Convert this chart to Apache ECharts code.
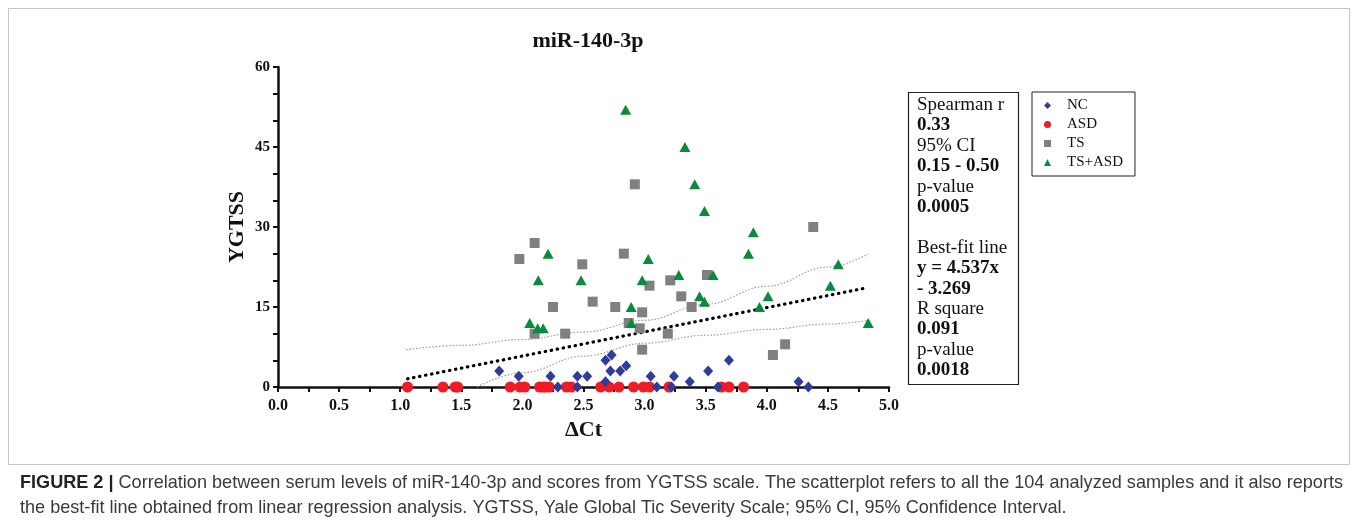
<!DOCTYPE html>
<html>
<head>
<meta charset="utf-8">
<script src="https://cdn.jsdelivr.net/npm/echarts@6/dist/echarts.min.js"></script>
<style>
html,body{margin:0;padding:0;background:#fff;}
#chart{width:1357px;height:526px;}
</style>
</head>
<body>
<div id="chart"></div>
<script>
// ---- data ----
const ncPoints = [
  [1.81,3],[1.97,2],[2.23,2],[2.45,2],[2.53,2],[2.29,0],[2.45,0],[2.68,5],[2.73,6],[2.72,3],
  [2.80,3],[2.85,4],[2.68,1],[3.05,2],[3.24,2],[3.10,0],[3.22,0],[3.37,1],[3.52,3],[3.69,5],
  [3.60,0],[4.26,1],[4.34,0]
];
const asdPoints = [
  [1.06,0],[1.35,0],[1.45,0],[1.47,0],[1.90,0],[1.98,0],[2.02,0],[2.14,0],[2.17,0],[2.19,0],
  [2.22,0],[2.36,0],[2.40,0],[2.64,0],[2.71,0],[2.79,0],[2.91,0],[2.99,0],[3.04,0],[3.20,0],
  [3.63,0],[3.69,0],[3.81,0]
];
const tsPoints = [
  [4.38,30],[2.92,38],[2.10,27],[1.975,24],[2.49,23],[2.83,25],[2.25,15],[2.575,16],[2.10,10],[2.35,10],
  [3.04,19],[3.21,20],[3.51,21],[3.30,17],[3.385,15],[2.76,15],[2.98,14],[2.87,12],[2.96,11],[3.19,10],
  [2.98,7],[4.05,6],[4.15,8]
];
const tsAsdPoints = [
  [2.845,52],[3.33,45],[3.41,38],[3.49,33],[3.89,29],[3.85,25],[2.21,25],[3.03,24],[2.13,20],[2.48,20],
  [2.98,20],[3.28,21],[3.56,21],[3.45,17],[3.49,16],[2.89,15],[2.89,12],[4.01,17],[3.94,15],[4.585,23],
  [4.52,19],[4.83,12],[2.06,12],[2.125,11],[2.17,11]
];
// best-fit line y = 4.537x - 3.269, drawn over the plotted x range
const fitLine = [[1.06,1.54],[4.83,18.65]];
const ciUpper = [[1.05,7.0],[1.5,7.8],[2.0,8.9],[2.5,10.3],[3.0,12.5],[3.5,15.5],[4.0,18.9],[4.5,22.5],[4.83,24.9]];
const ciLower = [[1.63,0],[2.0,2.7],[2.5,5.8],[3.0,8.2],[3.5,9.7],[4.0,10.8],[4.5,11.8],[4.83,12.5]];
const xTickLabels = ['0.0','0.5','1.0','1.5','2.0','2.5','3.0','3.5','4.0','4.5','5.0'];
const yTickLabels = ['0','15','30','45','60'];
const statsLines = [
  ['Spearman r', false], ['0.33', true], ['95% CI', false], ['0.15 - 0.50', true],
  ['p-value', false], ['0.0005', true], ['', false], ['Best-fit line', false],
  ['y = 4.537x', true], ['- 3.269', true], ['R square', false], ['0.091', true],
  ['p-value', false], ['0.0018', true]
];
const captionBold = 'FIGURE 2 |';
const captionLine1 = 'Correlation between serum levels of miR-140-3p and scores from YGTSS scale. The scatterplot refers to all the 104 analyzed samples and it also reports';
const captionLine2 = 'the best-fit line obtained from linear regression analysis. YGTSS, Yale Global Tic Severity Scale; 95% CI, 95% Confidence Interval.';

// ---- layout ----
const serif = '"Liberation Serif", "Times New Roman", serif';
const capFamily = '"Liberation Sans Narrow", "Liberation Sans", Arial, sans-serif';
const capSize = 19;

const mctx = document.createElement('canvas').getContext('2d');
function tw(text, weight) {
  mctx.font = (weight || 'normal') + ' ' + capSize + 'px ' + capFamily;
  return mctx.measureText(text).width;
}
const wBold = tw(captionBold, 'bold');
const wSpace = tw(' ');
const wRest = tw(captionLine1);
const capScale = (1343 - 20) / (wBold + wSpace + wRest);

const graphics = [
  { type: 'rect', silent: true, z: -10,
    shape: { x: 8.5, y: 8.5, width: 1341, height: 456 },
    style: { fill: 'none', stroke: '#c4c4c4', lineWidth: 1 } },
  { type: 'rect', silent: true,
    shape: { x: 908.5, y: 92.5, width: 110, height: 292 },
    style: { fill: '#fff', stroke: '#222', lineWidth: 1.2 } }
];
statsLines.forEach((ln, i) => {
  if (!ln[0]) return;
  graphics.push({
    type: 'text', silent: true, x: 917, y: 105 + i * 20.4,
    style: { text: ln[0], x: 0, y: 0, fill: '#111', fontFamily: serif, fontSize: 19,
             fontWeight: ln[1] ? 'bold' : 'normal', align: 'left', verticalAlign: 'middle' }
  });
});
graphics.push({
  type: 'text', silent: true, x: 20, y: 483, scaleX: capScale,
  style: { text: captionBold, x: 0, y: 0, fill: '#222', fontFamily: capFamily, fontSize: capSize,
           fontWeight: 'bold', align: 'left', verticalAlign: 'middle' }
});
graphics.push({
  type: 'text', silent: true, x: 20 + (wBold + wSpace) * capScale, y: 483, scaleX: capScale,
  style: { text: captionLine1, x: 0, y: 0, fill: '#3a3a3a', fontFamily: capFamily, fontSize: capSize,
           align: 'left', verticalAlign: 'middle' }
});
graphics.push({
  type: 'text', silent: true, x: 20, y: 508, scaleX: capScale,
  style: { text: captionLine2, x: 0, y: 0, fill: '#3a3a3a', fontFamily: capFamily, fontSize: capSize,
           align: 'left', verticalAlign: 'middle' }
});

const axisColor = '#111';
const chart = echarts.init(document.getElementById('chart'), null, { renderer: 'canvas' });
chart.setOption({
  animation: false,
  backgroundColor: '#fff',
  title: {
    text: 'miR-140-3p', left: 583, top: 25, textAlign: 'center',
    textStyle: { fontFamily: serif, fontWeight: 'bold', fontSize: 22, color: '#111' }
  },
  legend: {
    orient: 'vertical', left: 1032, top: 92,
    data: ['NC', 'ASD', 'TS', 'TS+ASD'],
    itemWidth: 7, itemHeight: 7, itemGap: 4,
    padding: [6, 12, 6, 12],
    borderColor: '#222', borderWidth: 1,
    textStyle: { fontFamily: serif, fontSize: 15, color: '#111', lineHeight: 15, padding: [0, 0, 0, 11] }
  },
  grid: { left: 278, top: 67, width: 611, height: 320 },
  xAxis: {
    type: 'value', min: 0, max: 5, interval: 0.25,
    name: '\u0394Ct', nameLocation: 'middle', nameGap: 30,
    nameTextStyle: { fontFamily: serif, fontWeight: 'bold', fontSize: 22, color: '#111' },
    axisLine: { show: true, onZero: false, lineStyle: { color: axisColor, width: 2.5 } },
    axisTick: { show: true, length: 5, lineStyle: { color: axisColor, width: 2 } },
    splitLine: { show: false },
    axisLabel: {
      margin: 11, fontFamily: serif, fontWeight: 'bold', fontSize: 16, color: '#111',
      formatter: v => {
        const k = Math.round(v / 0.5);
        return Math.abs(v - k * 0.5) < 1e-6 ? xTickLabels[k] : '';
      }
    }
  },
  yAxis: {
    type: 'value', min: 0, max: 60, interval: 5,
    name: 'YGTSS', nameLocation: 'middle', nameGap: 30, nameRotate: 90,
    nameTextStyle: { fontFamily: serif, fontWeight: 'bold', fontSize: 22, color: '#111' },
    axisLine: { show: true, onZero: false, lineStyle: { color: axisColor, width: 2.5 } },
    axisTick: { show: true, length: 5, lineStyle: { color: axisColor, width: 2 } },
    splitLine: { show: false },
    axisLabel: {
      margin: 8, fontFamily: serif, fontWeight: 'bold', fontSize: 15, color: '#111',
      formatter: v => {
        const k = Math.round(v / 15);
        return Math.abs(v - k * 15) < 1e-6 ? yTickLabels[k] : '';
      }
    }
  },
  series: [
    { name: 'ciUpper', type: 'line', data: ciUpper, showSymbol: false, smooth: 0.4, smoothMonotone: 'x',
      silent: true, z: 1, lineStyle: { color: '#9a9a9a', width: 1.2, type: [1.5, 1.8] } },
    { name: 'ciLower', type: 'line', data: ciLower, showSymbol: false, smooth: 0.4, smoothMonotone: 'x',
      silent: true, z: 1, lineStyle: { color: '#9a9a9a', width: 1.2, type: [1.5, 1.8] } },
    { name: 'fit', type: 'line', data: fitLine, showSymbol: false, silent: true, z: 1,
      lineStyle: { color: '#000', width: 3.2, type: [0.5, 5.6], cap: 'round' } },
    { name: 'ASD', type: 'scatter', data: asdPoints, symbol: 'circle', symbolSize: 11, clip: false, z: 3,
      itemStyle: { color: '#ee1c25', opacity: 1 } },
    { name: 'TS', type: 'scatter', data: tsPoints, symbol: 'rect', symbolSize: 10, clip: false, z: 3,
      itemStyle: { color: '#808080', opacity: 1 } },
    { name: 'TS+ASD', type: 'scatter', data: tsAsdPoints, symbol: 'triangle', symbolSize: [11, 10], clip: false, z: 3,
      itemStyle: { color: '#0b8a3e', opacity: 1 } },
    { name: 'NC', type: 'scatter', data: ncPoints, symbol: 'diamond', symbolSize: [10, 11], clip: false, z: 3,
      itemStyle: { color: '#2e3d9c', opacity: 1 } }
  ],
  graphic: graphics
});
</script>
</body>
</html>
